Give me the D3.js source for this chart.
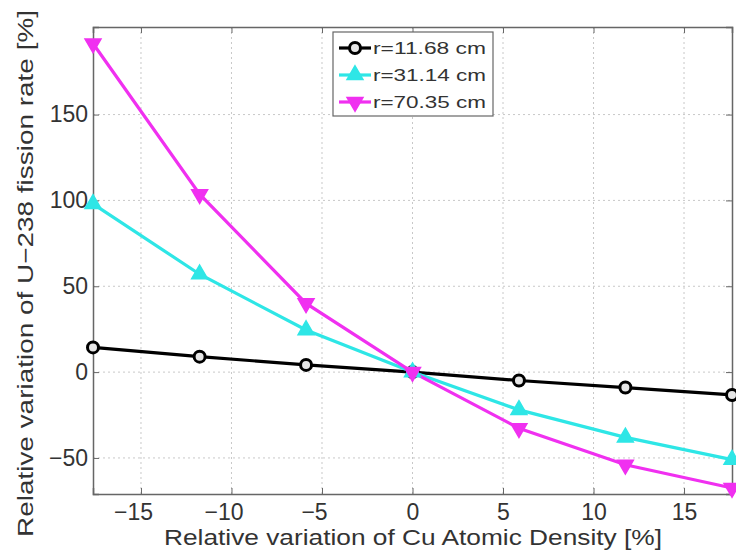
<!DOCTYPE html>
<html><head><meta charset="utf-8">
<script src="https://cdn.jsdelivr.net/npm/d3@7"></script>
<style>body{margin:0;background:#fff}text{font-family:"Liberation Sans",Arial,sans-serif}</style>
</head><body><svg id="c" width="736" height="554"></svg>
<script>
const xValues = [-17.65, -11.76, -5.88, 0, 5.88, 11.76, 17.65];
const seriesNames = ["r=11.68 cm", "r=31.14 cm", "r=70.35 cm"];
const r1168 = [14.4, 9.0, 4.2, 0, -4.9, -9.0, -13.3];
const r3114 = [98, 57, 24.5, 0, -22, -38, -51];
const r7035 = [191.4, 103.6, 40, 0, -32.7, -54, -67.5];
const xTicks = [-15, -10, -5, 0, 5, 10, 15];
const yTicks = [-50, 0, 50, 100, 150];
const colors = ["#000000", "#2ee6e6", "#f030f0"];
const markers = ["circle", "up", "down"];
const allSeries = [r1168, r3114, r7035];

const svg = d3.select("#c");
const L = 93, R = 732, T = 27, B = 494;
const x = d3.scaleLinear().domain([-17.65, 17.65]).range([L, R]);
const y = d3.scaleLinear().domain([-71, 201]).range([B, T]);

// grid
const g = svg.append("g");
g.selectAll(".gx").data(xTicks).enter().append("line")
  .attr("x1", d => x(d)).attr("x2", d => x(d)).attr("y1", T).attr("y2", B)
  .attr("stroke", "#c8c8c8").attr("stroke-width", 1).attr("stroke-dasharray", "2,3");
g.selectAll(".gy").data(yTicks).enter().append("line")
  .attr("y1", d => y(d)).attr("y2", d => y(d)).attr("x1", L).attr("x2", R)
  .attr("stroke", "#c8c8c8").attr("stroke-width", 1).attr("stroke-dasharray", "2,3");

// axes
const fmt = d => d < 0 ? "\u2212" + Math.abs(d) : String(d);
const xAxis = svg.append("g").attr("transform", `translate(0,${B})`)
  .call(d3.axisBottom(x).tickValues(xTicks).tickSize(-6).tickPadding(10).tickFormat(fmt));
const yAxis = svg.append("g").attr("transform", `translate(${L},0)`)
  .call(d3.axisLeft(y).tickValues(yTicks).tickSize(-6).tickPadding(5).tickFormat(fmt));
const xTop = svg.append("g").attr("transform", `translate(0,${T})`)
  .call(d3.axisTop(x).tickValues(xTicks).tickSize(-6).tickFormat(""));
const yRight = svg.append("g").attr("transform", `translate(${R},0)`)
  .call(d3.axisRight(y).tickValues(yTicks).tickSize(-6).tickFormat(""));
[xAxis, yAxis, xTop, yRight].forEach(a => {
  a.selectAll("path").attr("stroke", "#666").attr("stroke-width", 1.5);
  a.selectAll("line").attr("stroke", "#666");
  a.selectAll("text").attr("font-size", 23).attr("fill", "#333")
    .attr("font-family", '"Liberation Sans",Arial,sans-serif');
});
xAxis.selectAll(".tick text").attr("dx", d => d < 0 ? -8 : 0);

// lines
const line = d3.line().x((d, i) => x(xValues[i])).y(d => y(d));
function drawMarker(sel, type, color, cx, cy) {
  if (type === "circle") {
    sel.append("circle").attr("cx", cx).attr("cy", cy).attr("r", 5.5)
      .attr("fill", "#e6e6e6").attr("stroke", color).attr("stroke-width", 3);
  } else {
    const sym = d3.symbol().type(d3.symbolTriangle).size(110);
    sel.append("path").attr("d", sym())
      .attr("transform", `translate(${cx},${cy}) rotate(${type === "down" ? 180 : 0})`)
      .attr("fill", color).attr("stroke", color).attr("stroke-width", 1.5);
  }
}
allSeries.forEach((s, k) => {
  svg.append("path").datum(s).attr("d", line).attr("fill", "none")
    .attr("stroke", colors[k]).attr("stroke-width", 3.2);
});
allSeries.forEach((s, k) => {
  const gm = svg.append("g");
  s.forEach((v, i) => drawMarker(gm, markers[k], colors[k], x(xValues[i]), y(v)));
});

// legend
const lg = svg.append("g");
lg.append("rect").attr("x", 333).attr("y", 32).attr("width", 160).attr("height", 84)
  .attr("fill", "#fff").attr("stroke", "#666").attr("stroke-width", 1.2);
seriesNames.forEach((n, k) => {
  const yy = 48 + k * 27;
  lg.append("line").attr("x1", 339).attr("x2", 371).attr("y1", yy).attr("y2", yy)
    .attr("stroke", colors[k]).attr("stroke-width", 3.2);
  drawMarker(lg, markers[k], colors[k], 355, yy);
  lg.append("text").attr("x", 373).attr("y", yy).attr("dy", "0.36em")
    .attr("font-size", 17).attr("fill", "#333")
    .attr("textLength", 113).attr("lengthAdjust", "spacingAndGlyphs").text(n);
});

// axis labels
svg.append("text").attr("x", 413).attr("y", 545).attr("text-anchor", "middle")
  .attr("font-size", 22).attr("fill", "#333")
  .attr("textLength", 498).attr("lengthAdjust", "spacingAndGlyphs")
  .text("Relative variation of Cu Atomic Density [%]");
svg.append("text").attr("transform", `translate(33,273.5) rotate(-90)`)
  .attr("text-anchor", "middle").attr("font-size", 22).attr("fill", "#333")
  .attr("textLength", 527).attr("lengthAdjust", "spacingAndGlyphs")
  .text("Relative variation of U\u2212238 fission rate [%]");
</script></body></html>
